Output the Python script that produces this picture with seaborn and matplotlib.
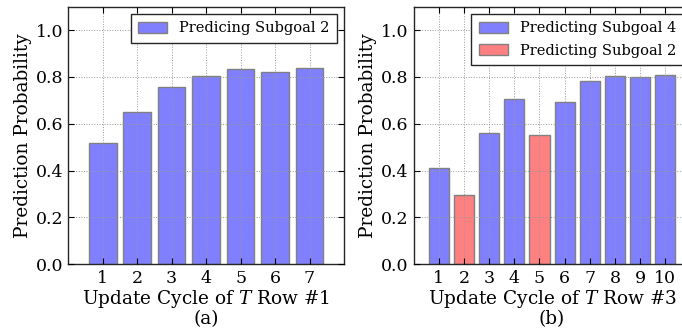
import matplotlib
matplotlib.use("Agg")
import matplotlib.pyplot as plt
from matplotlib.patches import Patch
import pandas as pd
import seaborn as sns

# Row #1: probability of predicting subgoal 2 at each update cycle
cycles_a = [1, 2, 3, 4, 5, 6, 7]
prob_a = [0.516, 0.650, 0.755, 0.803, 0.835, 0.819, 0.839]
series_a = ["Predicing Subgoal 2"] * 7

# Row #3: predicted subgoal and its probability at each update cycle
cycles_b = [1, 2, 3, 4, 5, 6, 7, 8, 9, 10]
prob_b = [0.410, 0.296, 0.560, 0.705, 0.553, 0.692, 0.781, 0.803, 0.799, 0.808]
series_b = ["Predicting Subgoal 4", "Predicting Subgoal 2", "Predicting Subgoal 4",
            "Predicting Subgoal 4", "Predicting Subgoal 2", "Predicting Subgoal 4",
            "Predicting Subgoal 4", "Predicting Subgoal 4", "Predicting Subgoal 4",
            "Predicting Subgoal 4"]

yticks = [0.0, 0.2, 0.4, 0.6, 0.8, 1.0]

plt.rcParams.update({
    "font.family": "DejaVu Serif",
    "mathtext.fontset": "dejavuserif",
    "font.size": 12.5,
    "xtick.direction": "in",
    "ytick.direction": "in",
    "xtick.top": True,
    "ytick.right": True,
    "xtick.major.size": 4,
    "ytick.major.size": 4,
    "xtick.major.pad": 4,
    "ytick.major.pad": 3.5,
    "axes.linewidth": 1.0,
    "axes.edgecolor": "0.15",
})

# half-transparent blue / red, as over a white background
palette = {"Predicing Subgoal 2": "#8080ff",
           "Predicting Subgoal 4": "#8080ff",
           "Predicting Subgoal 2": "#ff8080"}
bar_edge = "0.5"

fig = plt.figure(figsize=(6.82, 3.32), dpi=100)
ax_a = fig.add_axes([0.1001, 0.204, 0.4043, 0.776])
ax_b = fig.add_axes([0.6066, 0.204, 0.4057, 0.776])


def draw_panel(ax, cycles, probs, series, order, label, xmax):
    df = pd.DataFrame({"cycle": cycles, "prob": probs, "series": series})
    sns.barplot(data=df, x="cycle", y="prob", hue="series", hue_order=order,
                palette=palette, dodge=False, native_scale=True, saturation=1,
                edgecolor=bar_edge, linewidth=1.0, err_kws={"linewidth": 0},
                legend=False, ax=ax)
    ax.set_xlim(0, xmax)
    ax.set_ylim(0, 1.1)
    ax.set_xticks(cycles)
    ax.set_xticklabels([str(c) for c in cycles])
    ax.set_yticks(yticks)
    ax.set_yticklabels([f"{t:.1f}" for t in yticks])
    ax.grid(True, color="0.6", linestyle=":", linewidth=0.7)
    ax.set_axisbelow(False)
    ax.set_xlabel(label, fontsize=13.3, labelpad=1, linespacing=1.0)
    ax.set_ylabel("Prediction Probability", fontsize=13.3, labelpad=3)
    handles = [Patch(facecolor=palette[s], edgecolor=bar_edge, linewidth=1.0)
               for s in order]
    leg = ax.legend(handles, order, loc="upper right", fontsize=10.5,
                    fancybox=False, framealpha=1, edgecolor="0.15",
                    borderaxespad=0.5, handlelength=2.0, handleheight=0.8,
                    handletextpad=0.8, borderpad=0.5, labelspacing=0.6)
    leg.get_frame().set_linewidth(1.0)


draw_panel(ax_a, cycles_a, prob_a, series_a, ["Predicing Subgoal 2"],
           "Update Cycle of $T$ Row #1\n(a)", 8)
draw_panel(ax_b, cycles_b, prob_b, series_b,
           ["Predicting Subgoal 4", "Predicting Subgoal 2"],
           "Update Cycle of $T$ Row #3\n(b)", 11)

fig.savefig("out.png", dpi=100)
